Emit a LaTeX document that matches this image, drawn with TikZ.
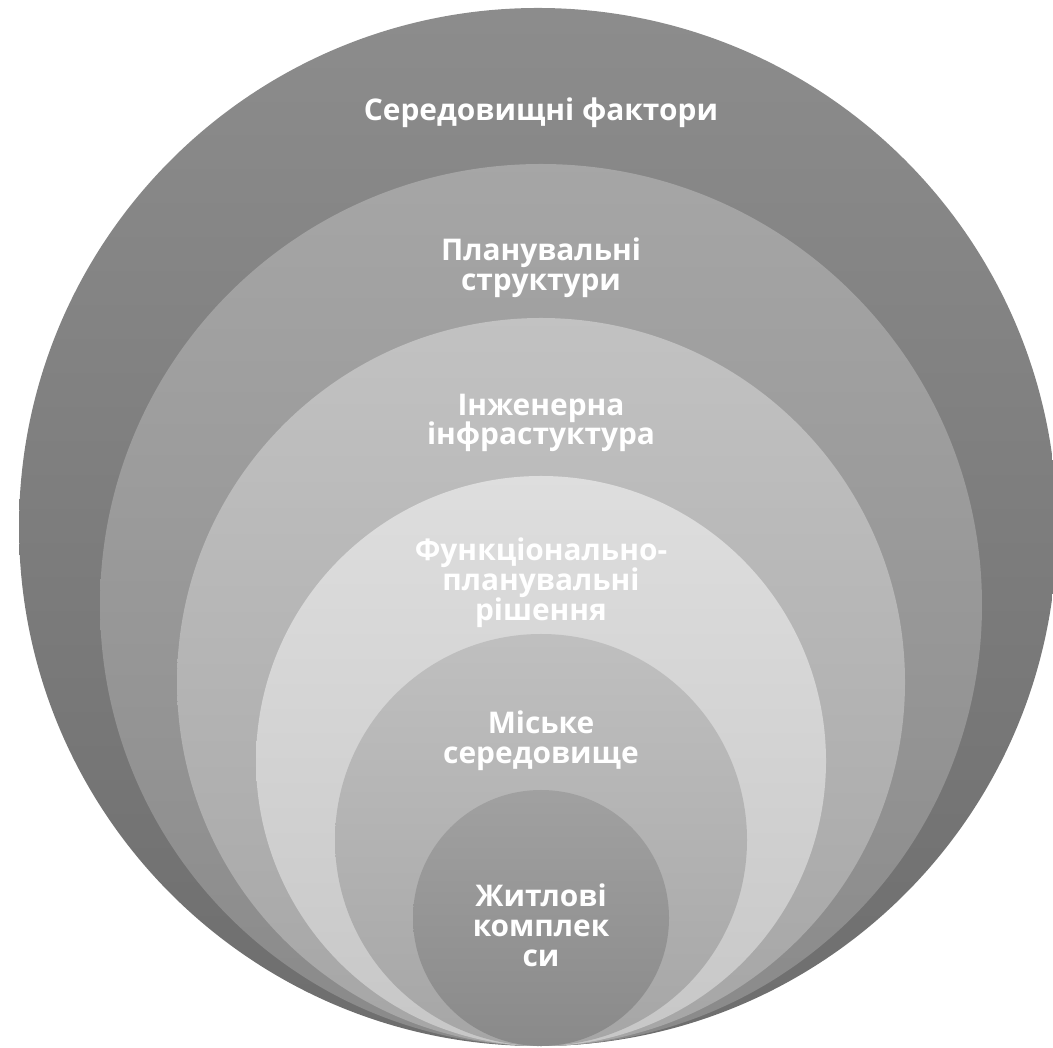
\documentclass[tikz,border=0pt]{standalone}
\usepackage{fontspec}
\setmainfont{Open Sans}
\begin{document}
\begin{tikzpicture}[x=0.02cm,y=0.02cm, line join=round, line cap=round,
	lab/.style={text=white, align=center, inner sep=0pt, font=\bfseries\fontsize{17}{17}\selectfont}]
	\def\cx{541}
	\useasboundingbox (0,0) rectangle (1053,1047);
	\clip (0,0) rectangle (1053,1047);
	%\draw[gray!50,dashed] (0,0) grid[step=100] (1053,1047);
	\shade[top color=black!45, bottom color=black!57] (538,520) circle[radius=519];
	\shade[top color=black!35, bottom color=black!46] (\cx,442) circle[radius=441];
	\shade[top color=black!24, bottom color=black!35] (\cx,365) circle[radius=364];
	\shade[top color=black!13, bottom color=black!22] (\cx,286) circle[radius=285];
	\shade[top color=black!25, bottom color=black!35] (\cx,207) circle[radius=206];
	\shade[top color=black!37, bottom color=black!46] (\cx,129) circle[radius=128];
	\node[lab] (env) at (\cx,934) {Середовищні фактори};
	\node[lab] (plan) at (\cx,779) {Планувальні\\структури};
	\node[lab] (eng) at (\cx,624) {Інженерна\\інфрастуктура};
	\node[lab] (func) at (\cx,464) {Функціонально-\\планувальні\\рішення};
	\node[lab] (city) at (\cx,306) {Міське\\середовище};
	\node[lab] (home) at (\cx,122) {Житлові\\комплек\\си};
\end{tikzpicture}
\end{document}
